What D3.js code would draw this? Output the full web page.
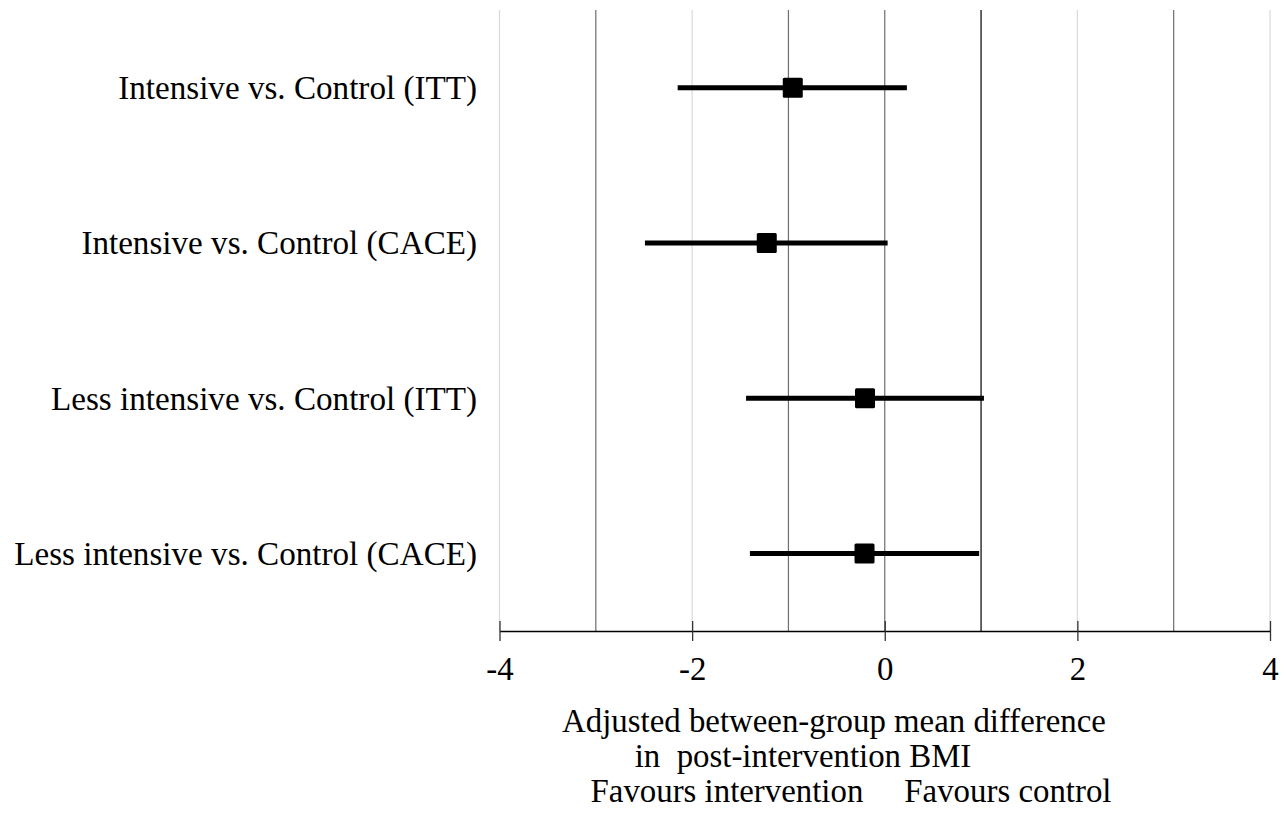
<!DOCTYPE html>
<html>
<head>
<meta charset="utf-8">
<script src="https://cdn.jsdelivr.net/npm/d3@7"></script>
<style>
  body { margin: 0; background: #fff; }
  svg text { font-family: "Liberation Serif", "Times New Roman", "DejaVu Serif", serif !important; fill: #000; }
</style>
</head>
<body>
<svg id="chart" width="1282" height="818"></svg>
<script>
// comparisons, top to bottom
const comparisons = [
  "Intensive vs. Control (ITT)",
  "Intensive vs. Control (CACE)",
  "Less intensive vs. Control (ITT)",
  "Less intensive vs. Control (CACE)"
];
const estimates = [-0.955, -1.225, -0.205, -0.21];
const lowerCI = [-2.15, -2.49, -1.44, -1.40];
const upperCI = [0.23, 0.03, 1.03, 0.98];

const tickValues = [-4, -2, 0, 2, 4];
// vertical reference lines
const lightLines = [-4, -2, 2, 4];
const greyLines = [-3, -1, 0, 3];
const blackLines = [1];

const titleLines = [
  "Adjusted between-group mean difference",
  "in  post-intervention BMI",
  "Favours intervention     Favours control"
];

const svg = d3.select("#chart");
const plotTop = 10, plotBottom = 631;

const x = d3.scaleLinear().domain([-4, 4]).range([499.5, 1270]);
const y = d3.scaleBand().domain(comparisons).range([plotTop, plotBottom]);

// grid lines
const grid = svg.append("g");
function vlines(vals, color, w) {
  grid.selectAll(null)
    .data(vals)
    .enter()
    .append("line")
    .attr("x1", d => x(d)).attr("x2", d => x(d))
    .attr("y1", plotTop).attr("y2", plotBottom)
    .attr("stroke", color)
    .attr("stroke-width", w);
}
vlines(lightLines, "#d9d9d9", 1.2);
vlines(greyLines, "#6e6e6e", 1.2);
vlines(blackLines, "#000", 1.2);

// x axis
const axis = svg.append("g")
  .attr("transform", "translate(0," + plotBottom + ")")
  .attr("font-family", null)
  .call(d3.axisBottom(x).tickValues(tickValues).tickSizeInner(10).tickSizeOuter(0));
axis.attr("font-family", null).attr("font-size", null);
axis.select(".domain").attr("stroke", "#000").attr("stroke-width", 1.3);
axis.selectAll(".tick line")
  .attr("y1", -10)
  .attr("y2", 10)
  .attr("stroke", "#333")
  .attr("stroke-width", 1.3);
const tickText = axis.selectAll(".tick text")
  .attr("y", 26)
  .attr("dy", "0.71em")
  .style("font-size", "30px")
  .text(d => d < 0 ? "-" + Math.abs(d) : d);

// CI lines
const rows = svg.append("g");
rows.selectAll(null)
  .data(comparisons)
  .enter()
  .append("line")
  .attr("x1", (d, i) => x(lowerCI[i]))
  .attr("x2", (d, i) => x(upperCI[i]))
  .attr("y1", d => y(d) + y.bandwidth() / 2)
  .attr("y2", d => y(d) + y.bandwidth() / 2)
  .attr("stroke", "#000")
  .attr("stroke-width", 5);

// point estimates
const sq = 20;
rows.selectAll(null)
  .data(comparisons)
  .enter()
  .append("rect")
  .attr("x", (d, i) => x(estimates[i]) - sq / 2)
  .attr("y", d => y(d) + y.bandwidth() / 2 - sq / 2)
  .attr("width", sq)
  .attr("height", sq)
  .attr("rx", 1.5)
  .attr("fill", "#000");

// row labels
const labels = svg.append("g").selectAll(null)
  .data(comparisons)
  .enter()
  .append("text")
  .attr("x", 477)
  .attr("y", d => y(d) + y.bandwidth() / 2)
  .attr("dy", "0.35em")
  .attr("text-anchor", "end")
  .style("font-size", "30px")
  .text(d => d);

// scale label font so the longest label spans ~463px like the reference
const longest = labels.filter((d, i) => i === 3).node().getComputedTextLength();
const labelSize = 30 * 463 / longest;
labels.style("font-size", labelSize + "px");

// axis title
const titleX = [834, 803, 851];
const titles = svg.append("g").selectAll(null)
  .data(titleLines)
  .enter()
  .append("text")
  .attr("x", (d, i) => titleX[i])
  .attr("y", (d, i) => 732 + i * 35)
  .attr("text-anchor", "middle")
  .style("font-size", "30px")
  .style("white-space", "pre")
  .text(d => d);
const t0 = titles.filter((d, i) => i === 0).node().getComputedTextLength();
const titleSize = 30 * 544 / t0;
titles.style("font-size", titleSize + "px");
tickText.style("font-size", titleSize + "px");
</script>
</body>
</html>
